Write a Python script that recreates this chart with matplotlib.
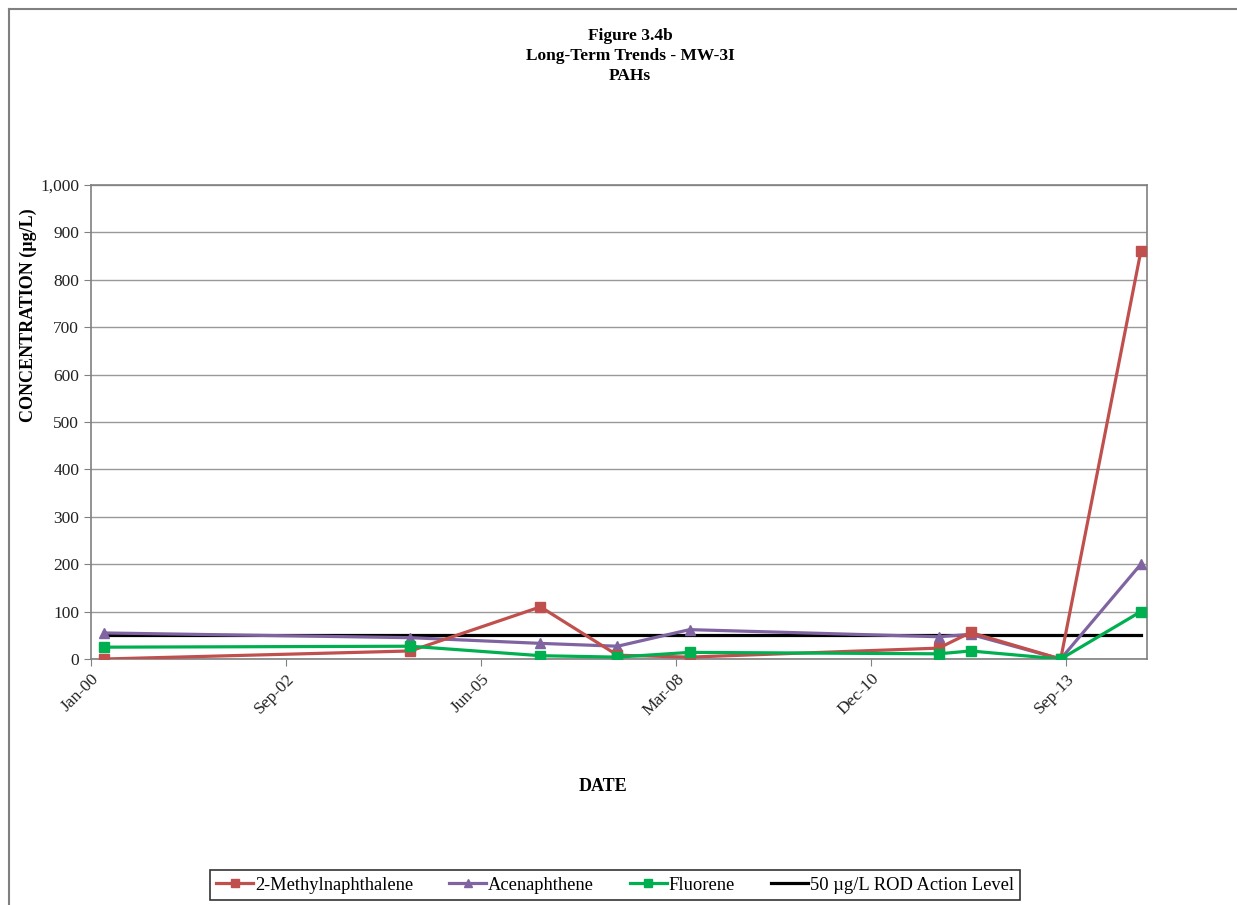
import matplotlib
matplotlib.use("Agg")
import matplotlib.pyplot as plt
import matplotlib.dates as mdates
from matplotlib.ticker import FuncFormatter
from matplotlib.lines import Line2D
import pandas as pd

plt.rcParams['font.family'] = ['Liberation Serif', 'DejaVu Serif']

# sample dates
dates = pd.to_datetime(['2000-03-08', '2004-06-26', '2006-04-24', '2007-05-24',
                        '2008-05-28', '2011-11-26', '2012-05-08', '2013-08-13',
                        '2014-09-28'])

methylnaphthalene = [0, 17, 110, 8, 4, 23, 56, 0, 860]
acenaphthene = [55, 45, 33, 27, 62, 47, 52, 0, 200]
fluorene = [25, 27, 7, 4, 14, 11, 17, 0, 100]
action_level = 50

fig = plt.figure(figsize=(12.37, 9.05), dpi=100)
ax = fig.add_axes([0.0736, 0.2718, 0.8537, 0.5238])

# outer chart frame (cut off on the right and bottom)
fig.add_artist(Line2D([9 / 1237, 9 / 1237], [0, 1 - 9 / 905], transform=fig.transFigure,
                      color='#808080', lw=1.5))
fig.add_artist(Line2D([9 / 1237, 1], [1 - 9 / 905, 1 - 9 / 905], transform=fig.transFigure,
                      color='#808080', lw=1.5))

ax.plot(dates, methylnaphthalene, color='#C0504D', lw=2.3, marker='s', ms=7,
        label='2-Methylnaphthalene', zorder=4)
ax.plot(dates, acenaphthene, color='#8064A2', lw=2.3, marker='^', ms=7,
        label='Acenaphthene', zorder=3)
ax.plot(dates, fluorene, color='#00B050', lw=2.3, marker='s', ms=7,
        label='Fluorene', zorder=5)
ax.plot([dates[0], dates[-1]], [action_level, action_level], color='black', lw=2.3,
        label='50 µg/L ROD Action Level', zorder=2)

start = pd.Timestamp('2000-01-01')
ticks = [start + pd.Timedelta(days=1000 * k) for k in range(6)]
ax.set_xlim(start, start + pd.Timedelta(days=5416))
ax.set_xticks(ticks)
ax.xaxis.set_major_formatter(mdates.DateFormatter('%b-%y'))
ax.set_ylim(0, 1000)
ax.set_yticks(range(0, 1001, 100))
ax.yaxis.set_major_formatter(FuncFormatter(lambda v, p: f'{int(v):,}'))

ax.grid(axis='y', color='#999999', lw=1)
ax.set_axisbelow(True)
for s in ax.spines.values():
    s.set_color('#808080')
    s.set_linewidth(1.2)
ax.tick_params(axis='both', direction='out', color='#808080', length=5, labelsize=12.5,
               labelcolor='#222222')
for lab in ax.get_xticklabels():
    lab.set_rotation(45)
    lab.set_ha('right')
    lab.set_rotation_mode('anchor')

ax.set_ylabel('CONCENTRATION (µg/L)', fontsize=13, fontweight='bold')
ax.yaxis.set_label_coords(-0.051, 0.726)
ax.set_xlabel('DATE', fontsize=13, fontweight='bold')
ax.xaxis.set_label_coords(0.485, -0.252)

fig.text(630 / 1237, 1 - 56 / 905, 'Figure 3.4b\nLong-Term Trends - MW-3I\nPAHs',
         ha='center', va='center', fontsize=12.5, fontweight='bold', linespacing=1.32)

leg = fig.legend(loc='center', bbox_to_anchor=(615 / 1237, 1 - 885 / 905), ncol=4,
                 fontsize=13.3, frameon=True, fancybox=False, edgecolor='black',
                 handlelength=2.0, handletextpad=0.1, columnspacing=1.95,
                 borderpad=0.35, markerscale=0.9)
leg.get_frame().set_linewidth(1.2)

fig.savefig('out.png', dpi=100)
